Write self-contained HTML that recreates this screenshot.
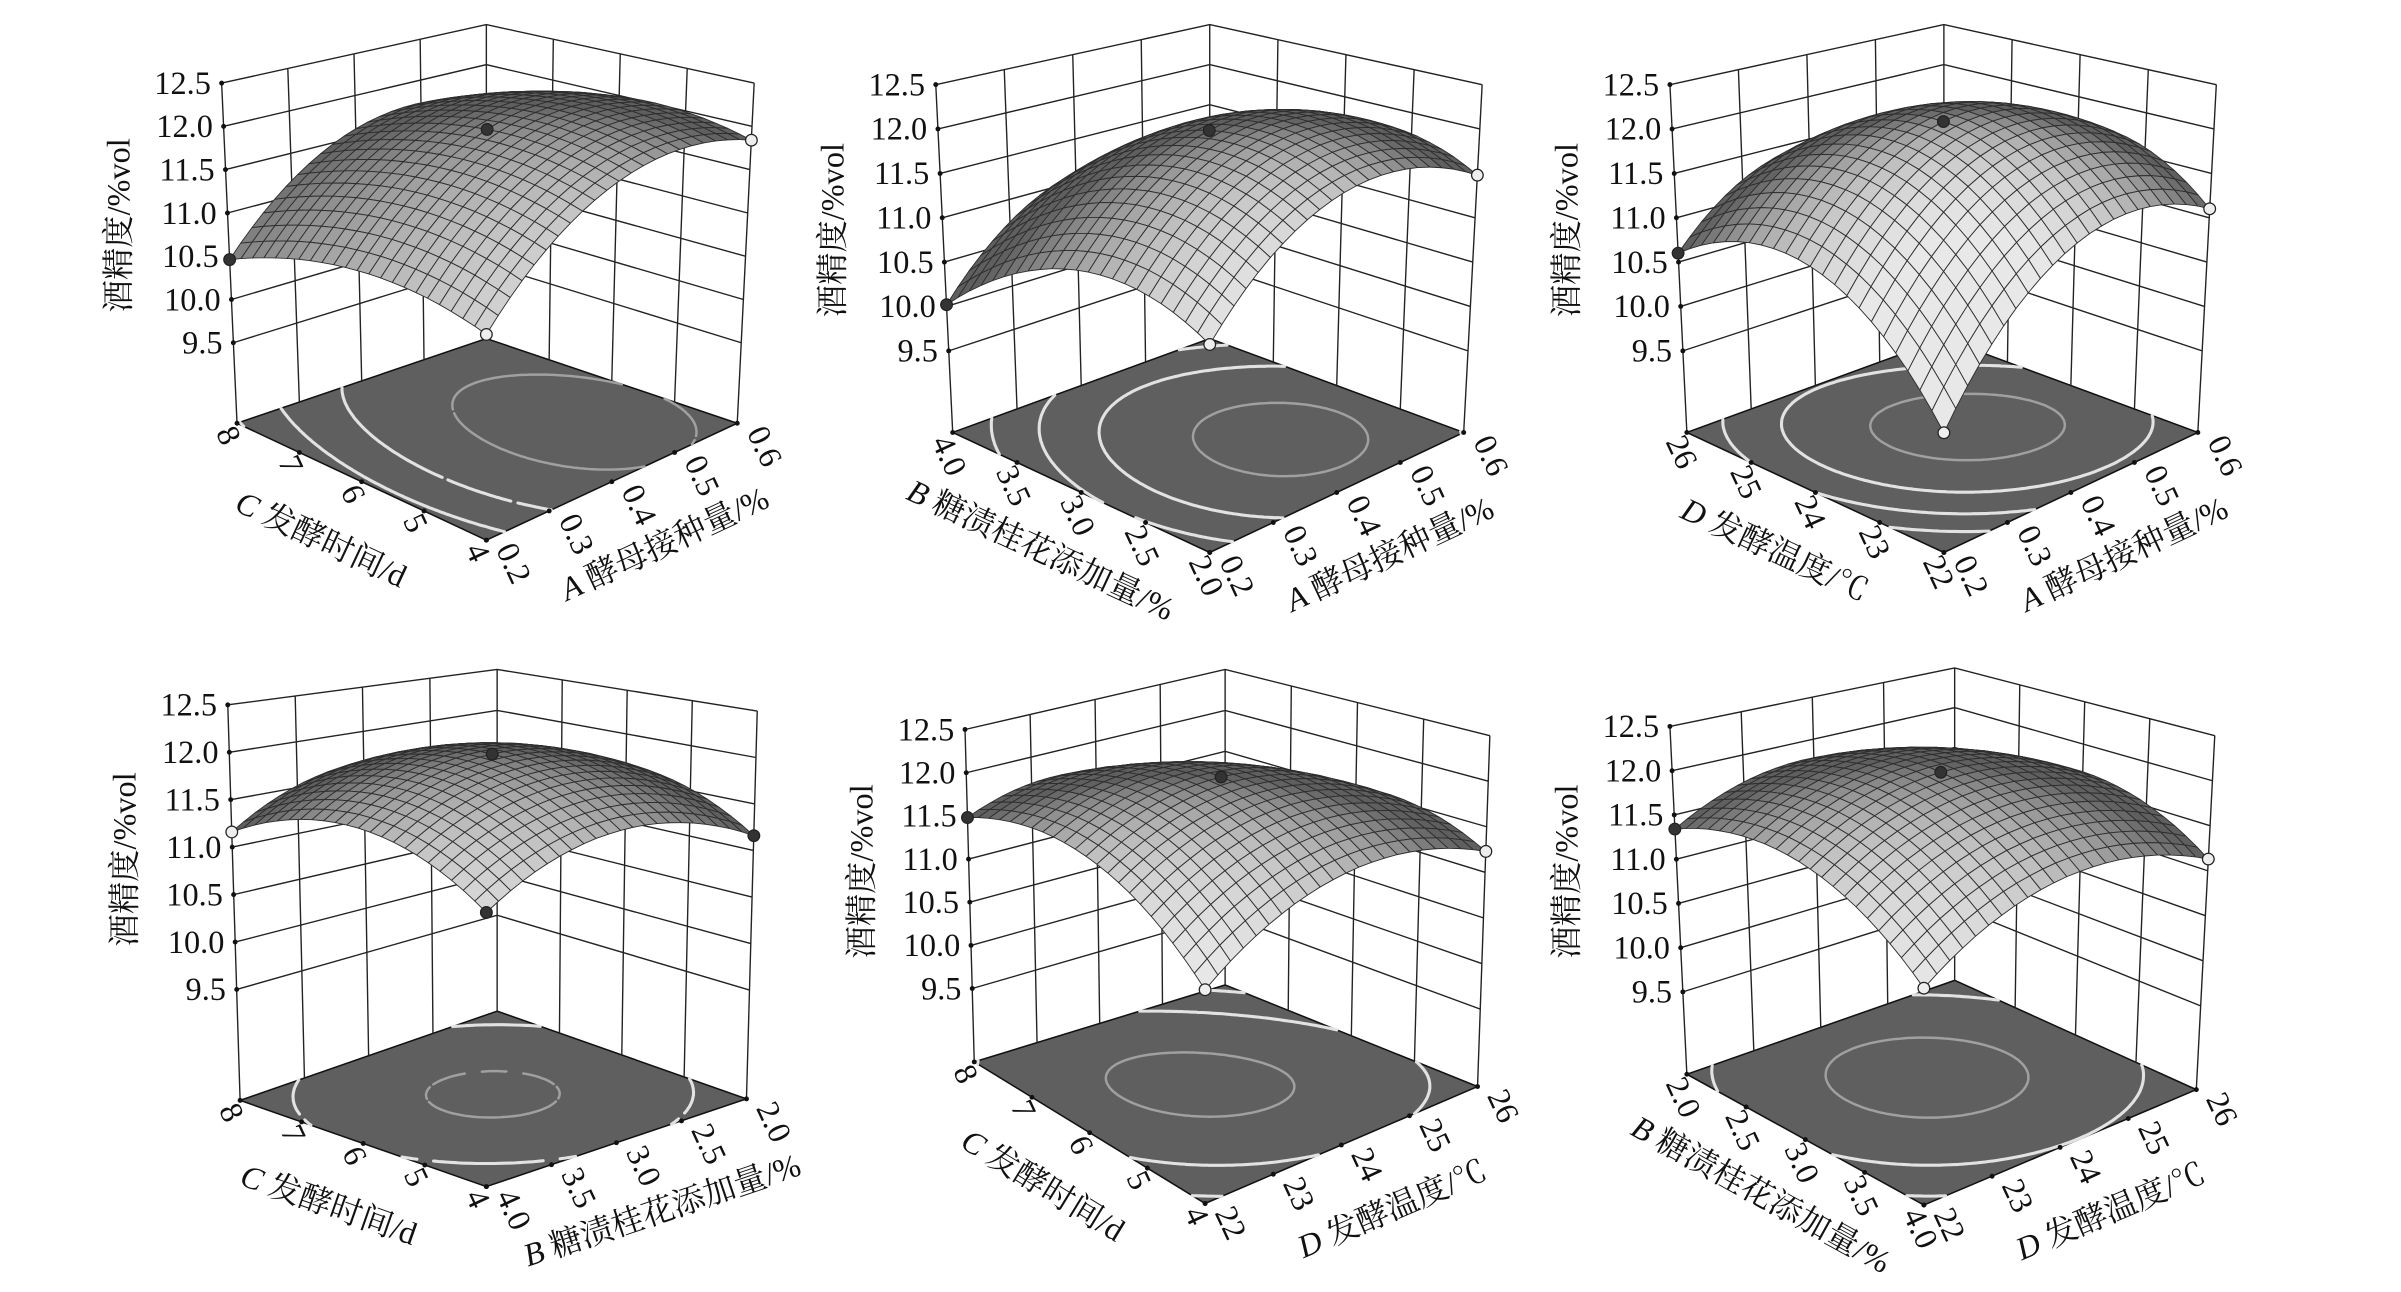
<!DOCTYPE html>
<html><head><meta charset="utf-8">
<style>
html,body{margin:0;padding:0;background:#fff;}
svg{display:block;}
text{font-family:"Liberation Serif","Noto Serif CJK SC",serif;fill:#111;}
.zt{font-size:21px;text-anchor:end;}
.lt,.rt{font-size:21px;}
.tl,.tr,.tz{font-size:21px;text-anchor:middle;}
</style></head>
<body>
<svg id="s" width="2401" height="1292" viewBox="0 0 1560 839.5" preserveAspectRatio="none" xmlns="http://www.w3.org/2000/svg">
<rect width="1560" height="840" fill="#fff"/>
<g id="p0"><g class="gfx"></g>
<text class="zt">12.5</text><text class="zt">12.0</text><text class="zt">11.5</text><text class="zt">11.0</text><text class="zt">10.5</text><text class="zt">10.0</text><text class="zt">9.5</text>
<text class="lt">8</text><text class="lt">7</text><text class="lt">6</text><text class="lt">5</text><text class="lt">4</text>
<text class="rt">0.2</text><text class="rt">0.3</text><text class="rt">0.4</text><text class="rt">0.5</text><text class="rt">0.6</text>
<text class="tl"><tspan font-style="italic">C</tspan> 发酵时间/d</text><text class="tr"><tspan font-style="italic">A</tspan> 酵母接种量/%</text><text class="tz">酒精度/%vol</text></g>
<g id="p1"><g class="gfx"></g>
<text class="zt">12.5</text><text class="zt">12.0</text><text class="zt">11.5</text><text class="zt">11.0</text><text class="zt">10.5</text><text class="zt">10.0</text><text class="zt">9.5</text>
<text class="lt">4.0</text><text class="lt">3.5</text><text class="lt">3.0</text><text class="lt">2.5</text><text class="lt">2.0</text>
<text class="rt">0.2</text><text class="rt">0.3</text><text class="rt">0.4</text><text class="rt">0.5</text><text class="rt">0.6</text>
<text class="tl"><tspan font-style="italic">B</tspan> 糖渍桂花添加量/%</text><text class="tr"><tspan font-style="italic">A</tspan> 酵母接种量/%</text><text class="tz">酒精度/%vol</text></g>
<g id="p2"><g class="gfx"></g>
<text class="zt">12.5</text><text class="zt">12.0</text><text class="zt">11.5</text><text class="zt">11.0</text><text class="zt">10.5</text><text class="zt">10.0</text><text class="zt">9.5</text>
<text class="lt">26</text><text class="lt">25</text><text class="lt">24</text><text class="lt">23</text><text class="lt">22</text>
<text class="rt">0.2</text><text class="rt">0.3</text><text class="rt">0.4</text><text class="rt">0.5</text><text class="rt">0.6</text>
<text class="tl"><tspan font-style="italic">D</tspan> 发酵温度/℃</text><text class="tr"><tspan font-style="italic">A</tspan> 酵母接种量/%</text><text class="tz">酒精度/%vol</text></g>
<g id="p3"><g class="gfx"></g>
<text class="zt">12.5</text><text class="zt">12.0</text><text class="zt">11.5</text><text class="zt">11.0</text><text class="zt">10.5</text><text class="zt">10.0</text><text class="zt">9.5</text>
<text class="lt">8</text><text class="lt">7</text><text class="lt">6</text><text class="lt">5</text><text class="lt">4</text>
<text class="rt">4.0</text><text class="rt">3.5</text><text class="rt">3.0</text><text class="rt">2.5</text><text class="rt">2.0</text>
<text class="tl"><tspan font-style="italic">C</tspan> 发酵时间/d</text><text class="tr"><tspan font-style="italic">B</tspan> 糖渍桂花添加量/%</text><text class="tz">酒精度/%vol</text></g>
<g id="p4"><g class="gfx"></g>
<text class="zt">12.5</text><text class="zt">12.0</text><text class="zt">11.5</text><text class="zt">11.0</text><text class="zt">10.5</text><text class="zt">10.0</text><text class="zt">9.5</text>
<text class="lt">8</text><text class="lt">7</text><text class="lt">6</text><text class="lt">5</text><text class="lt">4</text>
<text class="rt">22</text><text class="rt">23</text><text class="rt">24</text><text class="rt">25</text><text class="rt">26</text>
<text class="tl"><tspan font-style="italic">C</tspan> 发酵时间/d</text><text class="tr"><tspan font-style="italic">D</tspan> 发酵温度/℃</text><text class="tz">酒精度/%vol</text></g>
<g id="p5"><g class="gfx"></g>
<text class="zt">12.5</text><text class="zt">12.0</text><text class="zt">11.5</text><text class="zt">11.0</text><text class="zt">10.5</text><text class="zt">10.0</text><text class="zt">9.5</text>
<text class="lt">2.0</text><text class="lt">2.5</text><text class="lt">3.0</text><text class="lt">3.5</text><text class="lt">4.0</text>
<text class="rt">22</text><text class="rt">23</text><text class="rt">24</text><text class="rt">25</text><text class="rt">26</text>
<text class="tl"><tspan font-style="italic">B</tspan> 糖渍桂花添加量/%</text><text class="tr"><tspan font-style="italic">D</tspan> 发酵温度/℃</text><text class="tz">酒精度/%vol</text></g>
</svg>
<script>
(function(){
var P=[
{B:[316,220],L:[154,275],R:[479,275],F:[316,351],vB:[0,-204],vL:[-10,-221],vR:[11,-221],vF:[0,-240],zmin:8.57,
 m:{c:12.05,au:.15,av:-.54,bu:-.3,bv:-.6,i:0},d:['#333','#333','#eee','#eee']},
{B:[786,220],L:[619,281],R:[951,281],F:[786,359],vB:[0,-204],vL:[-11,-226],vR:[12,-226],vF:[0,-250],zmin:8.58,
 m:{c:12.05,au:.34,av:-.39,bu:-.6,bv:-.7,i:0},d:['#333','#333','#eee','#eee']},
{B:[1263,220],L:[1096,281],R:[1428,281],F:[1263,359],vB:[0,-204],vL:[-11,-226],vR:[12,-226],vF:[0,-250],zmin:8.58,
 m:{c:12.15,au:-.1,av:-.35,bu:-.8,bv:-.8,i:-.3},d:['#333','#333','#eee','#eee']},
{B:[323,657],L:[156,715],R:[485,714],F:[316,771],vB:[0,-222],vL:[-8,-257],vR:[7,-252],vF:[0,-272],zmin:8.33,
 m:{c:12.06,au:-.05,av:-.05,bu:-.45,bv:-.45,i:0},d:['#333','#eee','#333','#333']},
{B:[796,640],L:[633,690],R:[960,706],F:[783,782],vB:[0,-205],vL:[-6,-216],vR:[8,-228],vF:[0,-242],zmin:8.65,
 m:{c:12.1,au:-.055,av:.07,bu:-.5,bv:-.5,i:-.255},d:['#333','#333','#eee','#eee']},
{B:[1270,637],L:[1096,698],R:[1427,708],F:[1250,783],vB:[0,-203],vL:[-11,-226],vR:[12,-230],vF:[0,-245],zmin:8.57,
 m:{c:12.13,au:-.15,av:-.045,bu:-.5,bv:-.5,i:-.105},d:['#333','#333','#eee','#eee']}
];
function bl(p,s,t,a,b,c,d){var k=(1-s)*(1-t)*p[a][0]+s*(1-t)*p[b][0]+(1-s)*t*p[c][0]+s*t*p[d][0];
 var l=(1-s)*(1-t)*p[a][1]+s*(1-t)*p[b][1]+(1-s)*t*p[c][1]+s*t*p[d][1];return [k,l];}
P.forEach(function(p,idx){
 var g=document.getElementById('p'+idx);var gfx=g.querySelector('.gfx');var h='';
 function pr(s,t,z){var f=bl(p,s,t,'B','R','L','F'),v=bl(p,s,t,'vB','vR','vL','vF');var k=(z-p.zmin)/(12.5-p.zmin);return [f[0]+k*v[0],f[1]+k*v[1]];}
 function mz(s,t){var S=2*s-1,T=2*t-1,m=p.m;return m.c+m.au*S+m.av*T+m.bu*S*S+m.bv*T*T+m.i*S*T;}
 function pt(a){return a[0].toFixed(1)+','+a[1].toFixed(1);}
 var z0=p.zmin;
 h+='<polygon points="'+[pr(0,0,z0),pr(1,0,z0),pr(1,1,z0),pr(0,1,z0)].map(pt).join(' ')+'" fill="#5f5f5f" stroke="#111" stroke-width="1"/>';
 var N=90,levels=[[10.5,'#e2e2e2',2],[11.0,'#e2e2e2',2],[11.5,'#e2e2e2',2],[12.0,'#a0a0a0',1.6]];
 levels.forEach(function(L){var lv=L[0],d='';
  for(var i=0;i<N;i++)for(var j=0;j<N;j++){
   var s0=i/N,s1=(i+1)/N,t0=j/N,t1=(j+1)/N;
   var c=[[s0,t0,mz(s0,t0)],[s1,t0,mz(s1,t0)],[s1,t1,mz(s1,t1)],[s0,t1,mz(s0,t1)]];var pts=[];
   for(var e=0;e<4;e++){var a=c[e],b=c[(e+1)%4];if((a[2]-lv)*(b[2]-lv)<0){var r=(lv-a[2])/(b[2]-a[2]);pts.push([a[0]+r*(b[0]-a[0]),a[1]+r*(b[1]-a[1])]);}}
   if(pts.length>=2){d+='M'+pt(pr(pts[0][0],pts[0][1],z0))+'L'+pt(pr(pts[1][0],pts[1][1],z0));}
   if(pts.length==4){d+='M'+pt(pr(pts[2][0],pts[2][1],z0))+'L'+pt(pr(pts[3][0],pts[3][1],z0));}
  }
  h+='<path d="'+d+'" stroke="'+L[1]+'" stroke-width="'+L[2]+'" fill="none" stroke-linecap="round"/>';});
 var ws='';var zs=[9.5,10,10.5,11,11.5,12,12.5];
 zs.forEach(function(z){ws+='M'+pt(pr(0,1,z))+'L'+pt(pr(0,0,z))+'L'+pt(pr(1,0,z));});
 for(var k=0;k<=4;k++){ws+='M'+pt(pr(k/4,0,z0))+'L'+pt(pr(k/4,0,12.5));ws+='M'+pt(pr(0,k/4,z0))+'L'+pt(pr(0,k/4,12.5));}
 ws+='M'+pt(pr(1,0,z0))+'L'+pt(pr(1,0,12.5));
 h+='<path d="'+ws+'" stroke="#222" stroke-width="0.9" fill="none"/>';
 zs.forEach(function(z){var q=pr(0,1,z);h+='<circle cx="'+q[0].toFixed(1)+'" cy="'+q[1].toFixed(1)+'" r="1.6" fill="#111"/>';});
 for(var k=0;k<=4;k++){var q=pr(k/4,1,z0);h+='<circle cx="'+q[0].toFixed(1)+'" cy="'+q[1].toFixed(1)+'" r="1.6" fill="#111"/>';q=pr(1,k/4,z0);h+='<circle cx="'+q[0].toFixed(1)+'" cy="'+q[1].toFixed(1)+'" r="1.6" fill="#111"/>';}
 var M=22,qs=[];var hs=1.3/(12.5-z0);
 for(var i=0;i<M;i++)for(var j=0;j<M;j++){
  var s0=i/M,s1=(i+1)/M,t0=j/M,t1=(j+1)/M;
  var za=mz(s0,t0),zb=mz(s1,t0),zc=mz(s1,t1),zd=mz(s0,t1);
  var ax=s1-s0,ay=t1-t0,az=(zc-za)*hs,bx=s0-s1,by=t1-t0,bz=(zd-zb)*hs;
  var nx=ay*bz-az*by,ny=az*bx-ax*bz,nz=ax*by-ay*bx;var nl=Math.sqrt(nx*nx+ny*ny+nz*nz);nx/=nl;ny/=nl;nz/=nl;if(nz<0){nx=-nx;ny=-ny;nz=-nz;}
  var lx=0.66,ly=0.66,lz=0.36;var dd=nx*lx+ny*ly+nz*lz;var br=Math.round(Math.max(95,Math.min(232,20+225*dd)));
  qs.push([s0+t0,'<polygon points="'+[pr(s0,t0,za),pr(s1,t0,zb),pr(s1,t1,zc),pr(s0,t1,zd)].map(pt).join(' ')+'" fill="rgb('+br+','+br+','+br+')"/>']);
 }
 qs.sort(function(a,b){return a[0]-b[0];});
 h+='<g stroke="#2e2e2e" stroke-width="0.6" stroke-linejoin="round">'+qs.map(function(q){return q[1];}).join('')+'</g>';
 var dp=[[.5,.5],[0,1],[1,0],[1,1]];
 dp.forEach(function(d,n){var q=pr(d[0],d[1],mz(d[0],d[1]));h+='<circle cx="'+q[0].toFixed(1)+'" cy="'+q[1].toFixed(1)+'" r="3.8" fill="'+p.d[n]+'" stroke="#222" stroke-width="0.8"/>';});
 gfx.innerHTML=h;
 var zt=g.querySelectorAll('.zt');zs.slice().reverse().forEach(function(z,n){var q=pr(0,1,z);zt[n].setAttribute('x',(q[0]-7).toFixed(1));zt[n].setAttribute('y',(q[1]+7).toFixed(1));});
 var lt=g.querySelectorAll('.lt'),rt=g.querySelectorAll('.rt');
 for(var k=0;k<5;k++){var q=pr(k/4,1,z0);lt[k].setAttribute('transform','translate('+(q[0]-14).toFixed(1)+','+(q[1]+6).toFixed(1)+') rotate(65)');
  var r=pr(1,1-k/4,z0);rt[k].setAttribute('transform','translate('+(r[0]+6).toFixed(1)+','+(r[1]+6).toFixed(1)+') rotate(65)');}
 var Lp=pr(0,1,z0),Fp=pr(1,1,z0),Rp=pr(1,0,z0);
 var a1=Math.atan2(Fp[1]-Lp[1],Fp[0]-Lp[0]),a2=Math.atan2(Rp[1]-Fp[1],Rp[0]-Fp[0]);
 var m1=[(Lp[0]+Fp[0])/2,(Lp[1]+Fp[1])/2],m2=[(Fp[0]+Rp[0])/2,(Fp[1]+Rp[1])/2];
 var o1=[m1[0]-Math.sin(a1)*52-Math.cos(a1)*8,m1[1]+Math.cos(a1)*52-Math.sin(a1)*8];
 var o2=[m2[0]-Math.sin(a2)*58+Math.cos(a2)*14,m2[1]+Math.cos(a2)*58+Math.sin(a2)*14];
 var tl=g.querySelector('.tl'),tr=g.querySelector('.tr'),tz=g.querySelector('.tz');
 tl.setAttribute('transform','translate('+o1[0].toFixed(1)+','+o1[1].toFixed(1)+') rotate('+(a1*180/Math.PI).toFixed(1)+')');
 tr.setAttribute('transform','translate('+o2[0].toFixed(1)+','+o2[1].toFixed(1)+') rotate('+(a2*180/Math.PI).toFixed(1)+')');
 var top=pr(0,1,12.5),bot=pr(0,1,9.5);
 tz.setAttribute('transform','translate('+(top[0]-60).toFixed(1)+','+((top[1]+bot[1])/2+8).toFixed(1)+') rotate(-90)');
});
})();
</script>
</body></html>
